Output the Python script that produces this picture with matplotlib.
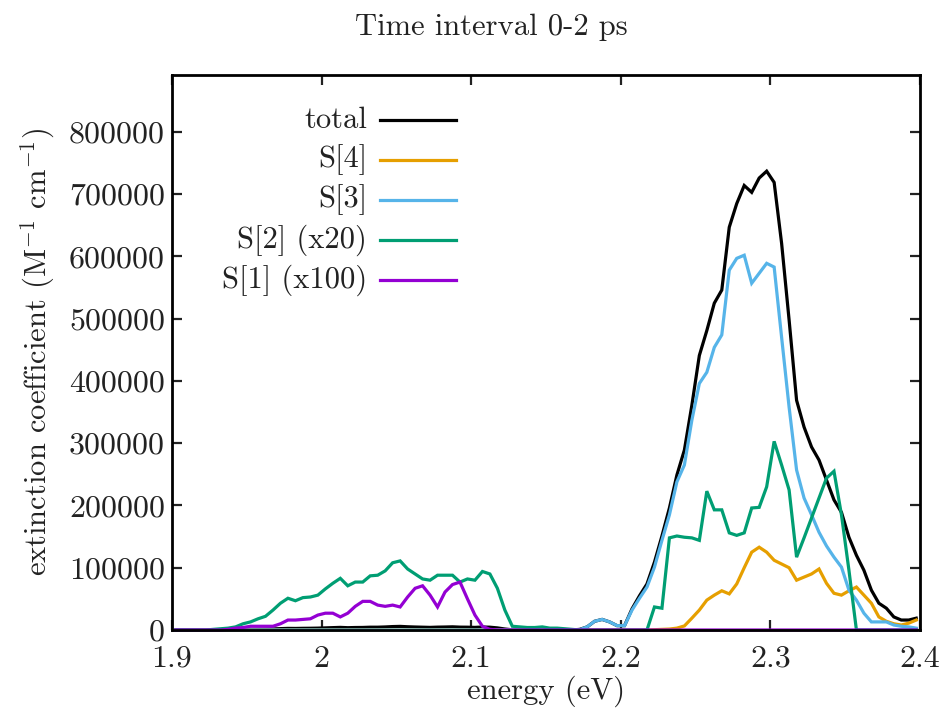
import numpy as np
import matplotlib
matplotlib.use("Agg")
import matplotlib.pyplot as plt
from matplotlib.lines import Line2D

plt.rcParams['font.family'] = ['cmr10', 'DejaVu Serif']
plt.rcParams['mathtext.fontset'] = 'cm'
plt.rcParams['axes.formatter.use_mathtext'] = True

# energy grid (eV), bin centres
energy = np.round(1.9025 + 0.005 * np.arange(100), 4)

total = [0, 0, 0, 0, 0, 100, 200, 300, 500, 700,
         900, 1100, 1300, 1700, 2200, 2600, 2500, 2700, 2800, 3000,
         3400, 3800, 4200, 3700, 4000, 4100, 4500, 4500, 4900, 5500,
         5800, 5200, 4800, 4500, 4200, 4600, 4800, 5100, 4600, 4500,
         4200, 4800, 4500, 3400, 1600, 300, 300, 200, 150, 200,
         150, 100, 100, 50, 1000, 5000, 14000, 17000, 13000, 7000,
         7000, 34000, 55000, 74000, 109000, 151000, 196000, 249000, 289000, 361000,
         441000, 481000, 525000, 546000, 647000, 685000, 714000, 703000, 726000, 737000,
         719000, 621000, 498000, 369000, 326000, 294000, 273000, 241000, 209000, 189000,
         149000, 120000, 96000, 64000, 43000, 35000, 21000, 16000, 16000, 19000]

s4 = [0] * 64 + [500, 1000, 1500, 3000, 6500, 19000,
                 32000, 48000, 56000, 63000, 58000, 74000, 100000, 125000, 133000, 125000,
                 112000, 106000, 100000, 80000, 85000, 90000, 98000, 75000, 59000, 56000,
                 63000, 69000, 56000, 43000, 21000, 14000, 10000, 8000, 11000, 16000]

s3 = [0] * 54 + [500, 5000, 14000, 17000, 13000, 7000,
                 7000, 32000, 51000, 69000, 101000, 144000, 185000, 238000, 265000, 337000,
                 396000, 414000, 454000, 474000, 578000, 597000, 602000, 557000, 573000, 589000,
                 583000, 470000, 358000, 257000, 212000, 185000, 157000, 135000, 117000, 101000,
                 64000, 48000, 27000, 13000, 13000, 13000, 8000, 6000, 5000, 3000]

s2_x20 = [0, 0, 0, 0, 0, 1000, 2000, 3000, 5000, 10000,
          13000, 18000, 22000, 32000, 43000, 51000, 47000, 52000, 53000, 56000,
          66000, 75000, 83000, 71000, 77000, 77000, 87000, 88000, 95000, 108000,
          111000, 98000, 90000, 82000, 80000, 88000, 88000, 88000, 77000, 82000,
          80000, 94000, 90000, 67000, 32000, 6000, 5000, 4000, 4000, 5000,
          3000, 3000, 2000, 1000, 0, 0, 0, 0, 0, 0,
          0, 0, 0, 0, 37000, 35000, 148000, 151000, 149000, 148000,
          144000, 223000, 193000, 193000, 156000, 152000, 156000, 196000, 197000, 230000,
          303000, 265000, 225000, 117000, 148000, 180000, 212000, 244000, 255000, 185000,
          96000, 0, 0, 0, 0, 0, 0, 0, 0, 0]

s1_x100 = [0, 0, 0, 0, 0, 0, 0, 1000, 3000, 4000,
           6000, 6000, 6000, 6000, 10000, 16000, 16000, 17000, 18000, 24000,
           27000, 27000, 21000, 27000, 38000, 46000, 46000, 40000, 38000, 40000,
           37000, 53000, 67000, 71000, 56000, 37000, 61000, 73000, 77000, 50000,
           24000, 6000, 1000] + [0] * 57

labels = ["total", "S[4]", "S[3]", "S[2] (x20)", "S[1] (x100)"]
colors = ["#000000", "#E69F00", "#56B4E9", "#009E73", "#9400D3"]
series = [total, s4, s3, s2_x20, s1_x100]

yticks = [0, 100000, 200000, 300000, 400000, 500000, 600000, 700000, 800000]
xticks = [1.9, 2.0, 2.1, 2.2, 2.3, 2.4]
xticklabels = ["1.9", "2", "2.1", "2.2", "2.3", "2.4"]

fig = plt.figure(figsize=(9.46, 7.15), dpi=100)
L, R, T, B = 172, 920, 75, 630
W, H = 946, 715
ax = fig.add_axes([L / W, 1 - B / H, (R - L) / W, (B - T) / H])

lw = 2.3
for ys, c in zip(series, colors):
    ax.plot(energy, ys, color=c, lw=lw, clip_on=False, solid_joinstyle='miter')

ax.set_xlim(1.9, 2.4)
ax.set_ylim(0, 891500)
ax.set_xticks(xticks)
ax.set_xticklabels(xticklabels)
ax.set_yticks(yticks)
ax.set_yticklabels([str(v) for v in yticks])
for s in ax.spines.values():
    s.set_linewidth(2.0)
    s.set_zorder(3)
ax.tick_params(direction='in', length=7, width=1.6, top=True, right=True,
               labelsize=23, colors='#222222', labelcolor='#222222')
ax.tick_params(axis='y', pad=5)
ax.tick_params(axis='x', pad=11)

# legend (gnuplot style: right-aligned text, sample to the right)
rows_px = [120, 160, 200, 240, 280]
for lab, c, ypx in zip(labels, colors, rows_px):
    yf = (B - ypx) / (B - T)
    ax.text((367 - L) / (R - L), yf, lab, transform=ax.transAxes, ha='right',
            va='center', fontsize=22, color='#222222')
    ax.add_line(Line2D([(380 - L) / (R - L), (456 - L) / (R - L)], [yf, yf],
                       transform=ax.transAxes, color=c, lw=lw))

fig.text(491 / W, 1 - 27 / H, "Time interval 0-2 ps", ha='center', va='center',
         fontsize=22, color='#222222')
fig.text(546 / W, 1 - 691 / H, "energy (eV)", ha='center', va='center',
         fontsize=22, color='#222222')
fig.text(38 / W, 1 - 352 / H, r"extinction coefficient (M$^{-1}$ cm$^{-1}$)",
         ha='center', va='center', rotation=90, fontsize=22, color='#222222')

fig.savefig("out.png", dpi=100)
